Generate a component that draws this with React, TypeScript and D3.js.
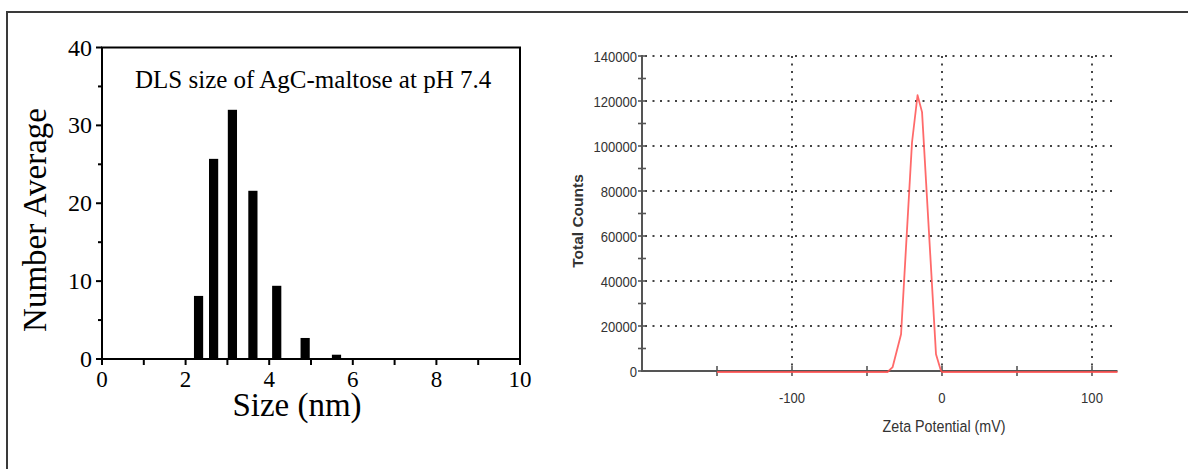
import React, { useRef, useEffect } from "react";
import * as d3 from "d3";

// left panel: DLS size histogram
const sizeNm = [2.31, 2.67, 3.12, 3.61, 4.18, 4.86, 5.61];
const numberAverage = [8.1, 25.7, 32.0, 21.6, 9.4, 2.7, 0.55];
const sizeTicks = [0, 2, 4, 6, 8, 10];
const averageTicks = [0, 10, 20, 30, 40];

// right panel: zeta potential distribution
const zetaMv = [-150, -36.3, -32.9, -27.3, -20, -16.3, -13.3, -4, -0.7, 0, 117];
const zetaCounts = [0, 0, 2200, 16800, 102000, 123000, 115500, 7900, 600, 0, 0];
const zetaTicks = [-100, 0, 100];
const countTicks = [0, 20000, 40000, 60000, 80000, 100000, 120000, 140000];

const W = 1188;
const H = 469;

const App = () => {
  const svgRef = useRef(null);

  useEffect(() => {
    const svg = d3.select(svgRef.current);
    svg.selectAll("*").remove();

    // outer frame (only top and left edges visible)
    svg
      .append("path")
      .attr("d", `M7,${H} V12 H${W}`)
      .attr("fill", "none")
      .attr("stroke", "#3a3a3a")
      .attr("stroke-width", 2);

    // ---------------- Left panel ----------------
    const x = d3.scaleLinear().domain([0, 10]).range([102, 520]);
    const y = d3.scaleLinear().domain([0, 40]).range([359, 47.5]);
    const left = svg
      .append("g")
      .style("font-family", "'Liberation Serif', 'Times New Roman', serif")
      .attr("fill", "#000");

    const barW = x(0.22) - x(0);
    left
      .selectAll("rect.bar")
      .data(sizeNm)
      .join("rect")
      .attr("class", "bar")
      .attr("x", (d) => x(d) - barW / 2)
      .attr("y", (d, i) => y(numberAverage[i]))
      .attr("width", barW)
      .attr("height", (d, i) => y(0) - y(numberAverage[i]))
      .attr("fill", "#000");

    left
      .append("rect")
      .attr("x", x(0))
      .attr("y", y(40))
      .attr("width", x(10) - x(0))
      .attr("height", y(0) - y(40))
      .attr("fill", "none")
      .attr("stroke", "#000")
      .attr("stroke-width", 2);

    // x ticks every 1 nm, all pointing down
    d3.range(0, 11, 1).forEach((v) => {
      left
        .append("line")
        .attr("x1", x(v))
        .attr("x2", x(v))
        .attr("y1", y(0))
        .attr("y2", y(0) + 6)
        .attr("stroke", "#000")
        .attr("stroke-width", 2);
    });
    // y ticks every 5, pointing left
    d3.range(0, 41, 5).forEach((v) => {
      const major = v % 10 === 0;
      left
        .append("line")
        .attr("x1", x(0))
        .attr("x2", x(0) - (major ? 6 : 4))
        .attr("y1", y(v))
        .attr("y2", y(v))
        .attr("stroke", "#000")
        .attr("stroke-width", 2);
    });

    left
      .selectAll("text.xt")
      .data(sizeTicks)
      .join("text")
      .attr("class", "xt")
      .attr("x", (d) => x(d))
      .attr("y", 387)
      .attr("text-anchor", "middle")
      .style("font-size", "23px")
      .text((d) => d);

    left
      .selectAll("text.yt")
      .data(averageTicks)
      .join("text")
      .attr("class", "yt")
      .attr("x", 92)
      .attr("y", (d) => y(d) + 8)
      .attr("text-anchor", "end")
      .style("font-size", "24px")
      .text((d) => d);

    left
      .append("text")
      .attr("x", 135)
      .attr("y", 88)
      .style("font-size", "25px")
      .text("DLS size of AgC-maltose at pH 7.4");

    left
      .append("text")
      .attr("transform", "translate(46,220) rotate(-90)")
      .attr("text-anchor", "middle")
      .style("font-size", "33px")
      .text("Number Average");

    left
      .append("text")
      .attr("x", 297)
      .attr("y", 416)
      .attr("text-anchor", "middle")
      .style("font-size", "33px")
      .text("Size (nm)");

    // ---------------- Right panel ----------------
    const zx = d3.scaleLinear().domain([-200, 117]).range([642, 1117.5]);
    const zy = d3.scaleLinear().domain([0, 140000]).range([371, 56]);
    const right = svg
      .append("g")
      .style("font-family", "'Liberation Sans', Arial, sans-serif");

    // dotted grid
    right
      .selectAll("line.hg")
      .data(countTicks.slice(1))
      .join("line")
      .attr("class", "hg")
      .attr("x1", zx(-200) + 3)
      .attr("x2", zx(117))
      .attr("y1", (d) => zy(d))
      .attr("y2", (d) => zy(d))
      .attr("stroke", "#444")
      .attr("stroke-width", 2)
      .attr("stroke-dasharray", "2 5.5");
    right
      .selectAll("line.vg")
      .data(zetaTicks)
      .join("line")
      .attr("class", "vg")
      .attr("x1", (d) => zx(d))
      .attr("x2", (d) => zx(d))
      .attr("y1", zy(140000))
      .attr("y2", zy(0))
      .attr("stroke", "#444")
      .attr("stroke-width", 2)
      .attr("stroke-dasharray", "2 5.5");

    // axes
    right
      .append("path")
      .attr("d", `M${zx(-200)},${zy(140000) - 1} V${zy(0)} H${zx(117)}`)
      .attr("fill", "none")
      .attr("stroke", "#555")
      .attr("stroke-width", 2);

    d3.range(0, 140001, 10000).forEach((v) => {
      right
        .append("line")
        .attr("x1", zx(-200) - 4)
        .attr("x2", zx(-200) + 4)
        .attr("y1", zy(v))
        .attr("y2", zy(v))
        .attr("stroke", "#555")
        .attr("stroke-width", 1.6);
    });
    d3.range(-150, 101, 50).forEach((v) => {
      right
        .append("line")
        .attr("x1", zx(v))
        .attr("x2", zx(v))
        .attr("y1", zy(0) - 5)
        .attr("y2", zy(0) + 5)
        .attr("stroke", "#555")
        .attr("stroke-width", 1.6);
    });

    // distribution curve (sits just under the axis line on the baseline)
    const line = d3
      .line()
      .x((d, i) => zx(zetaMv[i]))
      .y((d) => zy(d));
    right
      .append("path")
      .datum(zetaCounts)
      .attr("d", line)
      .attr("transform", "translate(0,1)")
      .attr("fill", "none")
      .attr("stroke", "#ff5050")
      .attr("stroke-opacity", 0.85)
      .attr("stroke-width", 1.8)
      .attr("stroke-linejoin", "round");

    // tick labels (narrow sans)
    right
      .selectAll("text.yt")
      .data(countTicks)
      .join("text")
      .attr("class", "yt")
      .attr("transform", (d) => `translate(637,${zy(d) + 5.5}) scale(0.87,1)`)
      .attr("text-anchor", "end")
      .attr("fill", "#333")
      .style("font-size", "15px")
      .text((d) => d);

    right
      .selectAll("text.xt")
      .data(zetaTicks)
      .join("text")
      .attr("class", "xt")
      .attr("transform", (d) => `translate(${zx(d)},403) scale(0.87,1)`)
      .attr("text-anchor", "middle")
      .attr("fill", "#333")
      .style("font-size", "15px")
      .text((d) => d);

    right
      .append("text")
      .attr("transform", "translate(583,221) rotate(-90)")
      .attr("text-anchor", "middle")
      .attr("fill", "#333")
      .style("font-size", "15.5px")
      .style("font-weight", "bold")
      .text("Total Counts");

    right
      .append("text")
      .attr("transform", "translate(944,432) scale(0.84,1)")
      .attr("text-anchor", "middle")
      .attr("fill", "#333")
      .style("font-size", "17px")
      .text("Zeta Potential (mV)");
  }, []);

  return (
    <div style={{ position: "absolute", left: 0, top: 0, background: "#fff" }}>
      <svg ref={svgRef} width={W} height={H} style={{ display: "block" }} />
    </div>
  );
};

export default App;
